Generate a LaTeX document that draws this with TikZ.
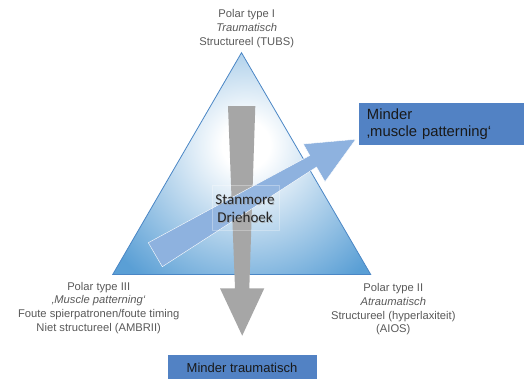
\documentclass[tikz,border=0pt]{standalone}
\usepackage{fontspec}
\setmainfont{Liberation Sans}
\newfontfamily\calibri{Carlito}
\definecolor{triblue}{HTML}{5A9FD5}
\definecolor{triedge}{HTML}{4A86C5}
\definecolor{arrowblue}{HTML}{8EB2DF}
\definecolor{boxblue}{HTML}{5282C4}
\definecolor{arrowgray}{HTML}{A6A6A6}
\definecolor{labelgray}{HTML}{595959}
\pgfdeclareradialshading{triglow}{\pgfpoint{0bp}{0bp}}{color(0bp)=(white); color(3bp)=(white); color(21bp)=(triblue); color(50bp)=(triblue)}

\begin{document}
\begin{tikzpicture}[x=1pt,y=-1pt]
    % --- stijlen ---
    \tikzstyle{pole}=[align=center, text=labelgray, inner sep=0pt, font=\fontsize{11.2}{13.7}\selectfont]
    \tikzstyle{bluebox}=[fill=boxblue, inner sep=0pt, text=black!90]
    \tikzstyle{blockarrow}=[draw=white, line width=0.4pt, line join=miter]

    \useasboundingbox (0,0) rectangle (524,378);

    % ====== driehoek met gloed ======
    \coordinate (top) at (241.5,52.7);
    \coordinate (left) at (112.7,274.5);
    \coordinate (right) at (370.7,274.5);
    \begin{scope}
        \clip (top) -- (left) -- (right) -- cycle;
        \shade[shading=triglow] (246,145) circle (200);
    \end{scope}
    \draw[triedge, line width=0.8pt] (top) -- (left) -- (right) -- cycle;

    % ====== grijze pijl (omlaag) ======
    \fill[arrowgray] (228,106) -- (255.3,106) -- (249.3,288.3) -- (264.3,288.3)
        -- (242.2,335.7) -- (220,288.3) -- (235,288.3) -- cycle;

    % ====== blauwe pijl (schuin omhoog) ======
    \fill[arrowblue, blockarrow] (148.3,242.7) -- (309.8,155.5) -- (303.3,144)
        -- (355.7,139.3) -- (325,181.7) -- (316.5,167) -- (162.3,266.7) -- cycle;

    % ====== midden ======
    \draw[white, opacity=0.3, fill=white, fill opacity=0.06] (212,185) rectangle (279.3,230);
    \node[text=black!40, opacity=0.6, align=center, font=\calibri\fontsize{15}{18}\selectfont]
        at (245.8,209.2) {Stanmore\\Driehoek};
    \node[text=black!85, align=center, font=\calibri\fontsize{15}{18}\selectfont]
        (center) at (245,208.3) {Stanmore\\Driehoek};

    % ====== polen ======
    \node[pole] (pole1) at (246.7,28.7) {Polar type I\\\textit{Traumatisch}\\Structureel (TUBS)};
    \node[pole] (pole3) at (98.7,307.8) {Polar type III\\\textit{‚Muscle patterning‘}\\Foute spierpatronen/foute timing\\Niet structureel (AMBRII)};
    \node[pole] (pole2) at (393.3,309.5) {Polar type II\\\textit{Atraumatisch}\\Structureel (hyperlaxiteit)\\(AIOS)};

    % ====== kaders ======
    \node[bluebox, anchor=north west, minimum width=165.5pt, minimum height=42.5pt,
        text width=149pt, align=left, inner xsep=8pt, font=\fontsize{14.8}{16.7}\selectfont]
        (minder1) at (358.5,102.5) {Minder\\‚muscle patterning‘};
    \node[bluebox, anchor=north west, minimum width=149pt, minimum height=25pt,
        font=\fontsize{13}{15}\selectfont]
        (minder2) at (167.3,355) {Minder traumatisch};

\end{tikzpicture}
\end{document}
